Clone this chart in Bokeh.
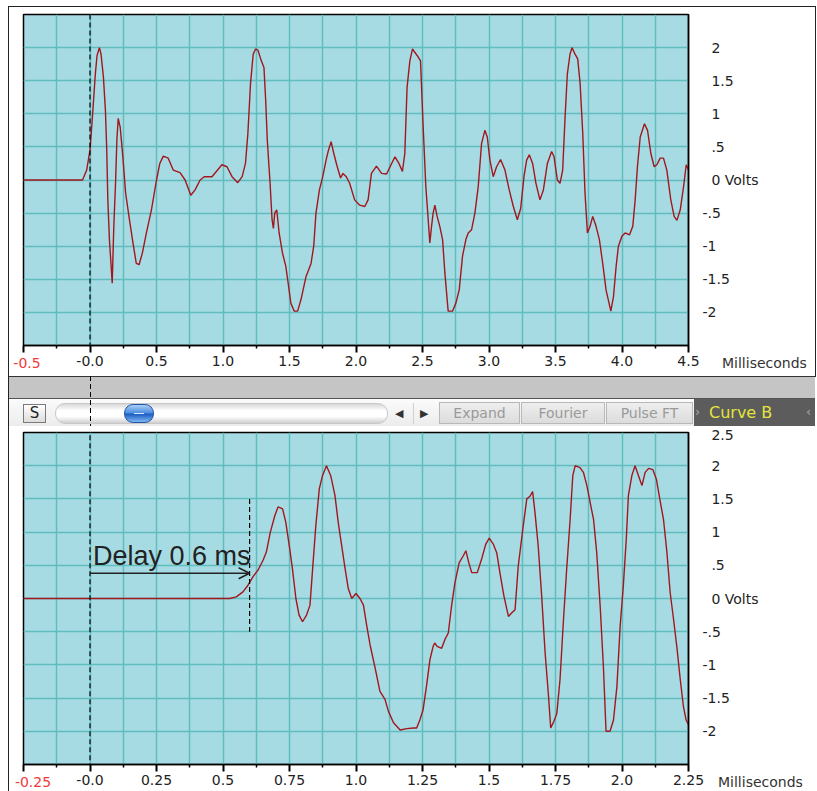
from bokeh.plotting import figure
from bokeh.models import Range1d, FixedTicker, Arrow, OpenHead, Div
from bokeh.layouts import column
from bokeh.core.properties import value
from bokeh.embed import file_html
from bokeh.resources import INLINE

# ---------------- data ----------------
# Upper trace (Curve A): time in ms, amplitude in volts
t_top = [-0.5, -0.056, -0.025, 0.0, 0.020, 0.040, 0.053, 0.071, 0.083, 0.101,
         0.116, 0.126, 0.134, 0.146, 0.159, 0.167, 0.179, 0.192, 0.202, 0.212,
         0.227, 0.247, 0.268, 0.293, 0.323, 0.348, 0.369, 0.394, 0.424, 0.462,
         0.500, 0.525, 0.551, 0.588, 0.626, 0.677, 0.715, 0.758, 0.790, 0.828,
         0.859, 0.917, 0.992, 1.030, 1.068, 1.111, 1.144, 1.169, 1.187, 1.207,
         1.227, 1.245, 1.263, 1.288, 1.308, 1.321, 1.333, 1.354, 1.369, 1.379,
         1.389, 1.404, 1.422, 1.447, 1.472, 1.490, 1.510, 1.535, 1.561, 1.586,
         1.624, 1.662, 1.682, 1.699, 1.725, 1.750, 1.775, 1.793, 1.813, 1.833,
         1.859, 1.884, 1.902, 1.927, 1.952, 1.990, 2.028, 2.066, 2.091, 2.116,
         2.154, 2.192, 2.230, 2.268, 2.293, 2.323, 2.349, 2.367, 2.384, 2.405,
         2.425, 2.442, 2.467, 2.485, 2.505, 2.525, 2.543, 2.555, 2.568, 2.580,
         2.593, 2.610, 2.630, 2.651, 2.668, 2.693, 2.726, 2.751, 2.776, 2.801,
         2.826, 2.844, 2.869, 2.894, 2.919, 2.944, 2.969, 2.987, 3.007, 3.032,
         3.057, 3.087, 3.120, 3.152, 3.183, 3.213, 3.238, 3.263, 3.283, 3.303,
         3.328, 3.353, 3.383, 3.409, 3.439, 3.471, 3.489, 3.514, 3.534, 3.554,
         3.572, 3.589, 3.609, 3.624, 3.647, 3.667, 3.685, 3.705, 3.722, 3.740,
         3.760, 3.780, 3.805, 3.830, 3.855, 3.880, 3.916, 3.936, 3.956, 3.973,
         3.999, 4.024, 4.056, 4.081, 4.099, 4.116, 4.137, 4.169, 4.192, 4.217,
         4.242, 4.262, 4.287, 4.312, 4.337, 4.367, 4.392, 4.413, 4.438, 4.463,
         4.483, 4.500]
v_top = [0, 0, 0.15, 0.45, 1.0, 1.6, 1.88, 2.0, 1.9, 1.55,
         1.05, 0.45, -0.3, -0.9, -1.3, -1.56, -0.7, -0.05, 0.6, 0.93,
         0.8, 0.35, -0.2, -0.55, -0.95, -1.26, -1.28, -1.1, -0.8, -0.45,
         0.0, 0.25, 0.36, 0.33, 0.15, 0.11, 0.0, -0.23, -0.15, 0.0,
         0.05, 0.05, 0.23, 0.2, 0.05, -0.04, 0.05, 0.25, 0.7, 1.46,
         1.9, 1.98, 1.96, 1.8, 1.7, 1.2, 0.6, -0.05, -0.6, -0.73,
         -0.5, -0.45, -0.8, -1.1, -1.3, -1.56, -1.86, -1.98, -1.98, -1.81,
         -1.46, -1.26, -1.0, -0.5, -0.15, 0.05, 0.3, 0.45, 0.58, 0.4,
         0.2, 0.03, 0.1, 0.05, -0.05, -0.3, -0.38, -0.4, -0.3, 0.1,
         0.21, 0.1, 0.09, 0.25, 0.35, 0.25, 0.13, 0.4, 1.4, 1.8,
         1.98, 1.93, 1.86, 1.8, 0.8, -0.1, -0.6, -0.95, -0.7, -0.5,
         -0.38, -0.55, -0.7, -0.9, -1.4, -1.98, -1.98, -1.86, -1.66, -1.15,
         -0.9, -0.8, -0.75, -0.5, -0.1, 0.55, 0.75, 0.65, 0.3, 0.05,
         0.2, 0.31, 0.15, -0.15, -0.4, -0.6, -0.43, 0.05, 0.3, 0.38,
         0.25, -0.05, -0.3, -0.15, 0.25, 0.43, 0.35, 0.0, -0.05, 0.15,
         0.95, 1.6, 1.9, 2.0, 1.9, 1.83, 1.46, 0.7, -0.2, -0.8,
         -0.7, -0.55, -0.7, -0.9, -1.26, -1.66, -1.98, -1.76, -1.3, -1.0,
         -0.85, -0.8, -0.83, -0.7, -0.3, 0.2, 0.65, 0.85, 0.75, 0.4,
         0.2, 0.23, 0.33, 0.33, 0.15, -0.3, -0.55, -0.61, -0.45, -0.1,
         0.23, 0.15]

# Lower trace (Curve B, delayed)
t_bot = [-0.25, 0.525, 0.550, 0.575, 0.594, 0.613, 0.632, 0.651, 0.663, 0.678,
         0.695, 0.707, 0.724, 0.736, 0.749, 0.761, 0.774, 0.786, 0.799, 0.814,
         0.827, 0.837, 0.849, 0.862, 0.874, 0.889, 0.905, 0.921, 0.933, 0.946,
         0.959, 0.971, 0.984, 1.000, 1.015, 1.028, 1.040, 1.053, 1.072, 1.090,
         1.109, 1.122, 1.141, 1.166, 1.191, 1.216, 1.228, 1.240, 1.252, 1.265,
         1.278, 1.290, 1.296, 1.305, 1.322, 1.334, 1.347, 1.359, 1.372, 1.388,
         1.403, 1.413, 1.424, 1.435, 1.456, 1.472, 1.488, 1.501, 1.516, 1.529,
         1.541, 1.556, 1.573, 1.585, 1.598, 1.610, 1.627, 1.642, 1.654, 1.664,
         1.673, 1.685, 1.698, 1.711, 1.723, 1.732, 1.744, 1.755, 1.767, 1.780,
         1.792, 1.805, 1.815, 1.824, 1.842, 1.855, 1.868, 1.880, 1.893, 1.905,
         1.918, 1.930, 1.940, 1.955, 1.968, 1.981, 1.993, 2.005, 2.016, 2.024,
         2.037, 2.049, 2.062, 2.075, 2.087, 2.100, 2.116, 2.129, 2.142, 2.156,
         2.169, 2.181, 2.194, 2.206, 2.219, 2.231, 2.241, 2.250]
v_bot = [0, 0, 0.025, 0.1, 0.2, 0.33, 0.43, 0.58, 0.7, 1.0,
         1.25, 1.38, 1.35, 1.15, 0.8, 0.45, 0.0, -0.25, -0.35, -0.25,
         -0.1, 0.45, 1.1, 1.65, 1.85, 2.0, 1.85, 1.55, 1.15, 0.8,
         0.45, 0.15, 0.0, 0.075, 0.0, -0.1, -0.4, -0.7, -1.05, -1.4,
         -1.52, -1.7, -1.87, -1.98, -1.96, -1.95, -1.95, -1.83, -1.68, -1.32,
         -0.92, -0.72, -0.67, -0.72, -0.75, -0.62, -0.52, -0.12, 0.24, 0.54,
         0.64, 0.72, 0.54, 0.39, 0.39, 0.59, 0.82, 0.91, 0.82, 0.69,
         0.39, 0.04, -0.27, -0.22, -0.17, 0.49, 1.04, 1.5, 1.54, 1.61,
         1.29, 0.79, 0.04, -0.82, -1.43, -1.95, -1.85, -1.73, -1.22, -0.32,
         0.44, 1.19, 1.85, 2.0, 1.97, 1.9, 1.7, 1.45, 1.19, 0.69,
         -0.12, -1.02, -2.0, -2.0, -1.83, -1.32, -0.42, 0.19, 0.89, 1.55,
         1.85, 2.0, 1.85, 1.7, 1.9, 1.96, 1.94, 1.8, 1.5, 1.19,
         0.69, 0.09, -0.32, -0.72, -1.22, -1.63, -1.83, -1.9]

# axis ticks / labels
x_ticks_top = [-0.5, 0.0, 0.5, 1.0, 1.5, 2.0, 2.5, 3.0, 3.5, 4.0, 4.5]
x_labels_top = ["-0.5", "-0.0", "0.5", "1.0", "1.5", "2.0", "2.5", "3.0", "3.5", "4.0", "4.5"]
x_minor_top = [-0.25, 0.25, 0.75, 1.25, 1.75, 2.25, 2.75, 3.25, 3.75, 4.25]
x_ticks_bot = [-0.25, 0.0, 0.25, 0.5, 0.75, 1.0, 1.25, 1.5, 1.75, 2.0, 2.25]
x_labels_bot = ["-0.25", "-0.0", "0.25", "0.5", "0.75", "1.0", "1.25", "1.5", "1.75", "2.0", "2.25"]
x_minor_bot = [-0.125, 0.125, 0.375, 0.625, 0.875, 1.125, 1.375, 1.625, 1.875, 2.125]
y_ticks_top = [2.0, 1.5, 1.0, 0.5, 0.0, -0.5, -1.0, -1.5, -2.0]
y_labels_top = ["2", "1.5", "1", ".5", "0 Volts", "-.5", "-1", "-1.5", "-2"]
y_ticks_bot = [2.5, 2.0, 1.5, 1.0, 0.5, 0.0, -0.5, -1.0, -1.5, -2.0]
y_labels_bot = ["2.5", "2", "1.5", "1", ".5", "0 Volts", "-.5", "-1", "-1.5", "-2"]
y_grid = [-2.0, -1.5, -1.0, -0.5, 0.0, 0.5, 1.0, 1.5, 2.0]
x_unit = "Milliseconds"

delay_ms = 0.6
delay_text = "Delay 0.6 ms"
tab_names = ["Expand", "Fourier", "Pulse FT"]
curve_name = "Curve B"

# ---------------- style ----------------
BG = "#a7dbe3"
GRID = "#5fbdbe"
TRACE = "#a3161e"
FONT = "DejaVu Sans"
W = 817


def panel(t, v, xr, xt, xl, xm, yt, yl, height, mb_top, mb_bottom, dash_y):
    p = figure(width=W, height=height, x_range=Range1d(*xr), y_range=Range1d(-2.5, 2.5),
               output_backend="svg", toolbar_location=None, y_axis_location="right",
               min_border_left=23, min_border_right=129, min_border_top=mb_top,
               min_border_bottom=mb_bottom, background_fill_color=BG,
               border_fill_color="white", outline_line_color="black",
               outline_line_width=1.5, margin=0)
    xa = p.xaxis[0]
    xa.ticker = FixedTicker(ticks=xt, minor_ticks=xm)
    ov = {k: lab for k, lab in zip(xt, xl)}
    ov[xt[0]] = ""          # first (red) label is drawn in the overlay
    xa.major_label_overrides = ov
    xa.axis_line_width = 1.5
    xa.major_tick_line_width = 2
    xa.minor_tick_line_width = 1.5
    xa.major_tick_out = 7
    xa.major_tick_in = 0
    xa.minor_tick_out = 3
    xa.minor_tick_in = 0
    xa.major_label_standoff = 3
    xa.major_label_text_font = FONT
    xa.major_label_text_font_size = "14px"
    xa.major_label_text_color = "#222222"

    ya = p.yaxis[0]
    ya.ticker = FixedTicker(ticks=yt)
    ya.major_label_overrides = {k: (lab if lab.startswith("-") else "\u2007" + lab)
                                for k, lab in zip(yt, yl)}
    ya.axis_line_width = 1.5
    ya.major_tick_line_color = None
    ya.minor_tick_line_color = None
    ya.major_tick_out = 0
    ya.major_tick_in = 0
    ya.major_label_standoff = 14
    ya.major_label_text_font = FONT
    ya.major_label_text_font_size = "14px"
    ya.major_label_text_color = "#222222"

    p.xgrid.grid_line_color = GRID
    p.xgrid.grid_line_width = 1.5
    p.xgrid.minor_grid_line_color = GRID
    p.xgrid.minor_grid_line_width = 1.5
    p.ygrid.ticker = FixedTicker(ticks=y_grid)
    p.ygrid.grid_line_color = GRID
    p.ygrid.grid_line_width = 1.5

    p.line(t, v, line_color=TRACE, line_width=1.4)

    # zero-time dashed marker
    p.add_layout(Arrow(end=None, x_start=0, y_start=dash_y[0], x_end=0, y_end=dash_y[1],
                       line_color="black", line_width=1.2, line_dash="5 3"))
    return p


top = panel(t_top, v_top, (-0.5, 4.5), x_ticks_top, x_labels_top, x_minor_top,
            y_ticks_top, y_labels_top, 376, 14, 31, (2.5, -3.2))
bot = panel(t_bot, v_bot, (-0.25, 2.25), x_ticks_bot, x_labels_bot, x_minor_bot,
            y_ticks_bot, y_labels_bot, 365, 6, 27, (2.7, -2.5))

# delay annotation on lower panel
bot.segment(x0=[delay_ms], y0=[1.5], x1=[delay_ms], y1=[-0.5],
            line_color="black", line_width=1.2, line_dash="5 3")
bot.add_layout(Arrow(end=OpenHead(size=11, line_color="#222222", line_width=1.5),
                     x_start=0, y_start=0.38, x_end=delay_ms, y_end=0.38,
                     line_color="#222222", line_width=1.5))
bot.text(x=[0.011], y=[0.64], text=[delay_text], text_font=value("Liberation Sans"),
         text_font_size=value("27px"), text_color="#222222",
         text_baseline="alphabetic", text_align="left")

# ---------------- toolbar strip between the panels ----------------
tab_left = [439, 521, 606]
tab_w = [81, 84, 87]
tabs_html = "".join(
    f'<div style="position:absolute;left:{l}px;top:26px;width:{w}px;height:22px;'
    f'background:linear-gradient(#eeeeee,#dcdcdc);border:1px solid #b8b8b8;box-sizing:border-box;'
    f'color:#9a9a9a;font-size:14px;line-height:20px;text-align:center;">{n}</div>'
    for n, l, w in zip(tab_names, tab_left, tab_w))

strip = f'''
<div style="position:relative;width:{W}px;height:50px;overflow:hidden;font-family:'DejaVu Sans',sans-serif;background:#ffffff;">
 <div style="position:absolute;left:8px;top:0;width:{W - 10}px;height:1px;background:#333;"></div>
 <div style="position:absolute;left:9px;top:1px;width:{W - 11}px;height:21px;background:#c5c5c5;"></div>
 <div style="position:absolute;left:9px;top:22px;width:{W - 11}px;height:1px;background:#555;"></div>
 <div style="position:absolute;left:9px;top:23px;width:{W - 11}px;height:27px;background:linear-gradient(#fbfbfb,#ececec);"></div>
 <div style="position:absolute;left:23px;top:28px;width:23px;height:19px;box-sizing:border-box;border:1px solid #7a7a7a;background:linear-gradient(#ffffff,#dddddd);font-size:15px;line-height:17px;text-align:center;color:#222;">S</div>
 <div style="position:absolute;left:55px;top:27px;width:333px;height:21px;box-sizing:border-box;border:1px solid #c8c8c8;border-radius:10px;background:linear-gradient(#d8d8d8,#ffffff 35%,#ffffff 65%,#d0d0d0);"></div>
 <div style="position:absolute;left:124px;top:28px;width:30px;height:19px;box-sizing:border-box;border:1px solid #2456a8;border-radius:9px;background:linear-gradient(#a9d0f7,#4f8fe0 45%,#1f5fc4 55%,#7fb6f2);"></div>
 <div style="position:absolute;left:134px;top:37px;width:10px;height:1px;background:#d8e8ff;"></div>
 <div style="position:absolute;left:395px;top:30px;font-size:11px;color:#333;">&#9664;</div>
 <div style="position:absolute;left:413px;top:27px;width:1px;height:21px;background:#cfcfcf;"></div>
 <div style="position:absolute;left:420px;top:30px;font-size:11px;color:#333;">&#9654;</div>
 {tabs_html}
 <div style="position:absolute;left:694px;top:23px;width:{W - 696}px;height:27px;background:#5c5c5c;"></div>
 <div style="position:absolute;left:695px;top:27px;font-size:13px;color:#a8a8a8;">&#8250;</div>
 <div style="position:absolute;left:709px;top:26px;font-size:16px;line-height:22px;color:#e4e43a;">{curve_name}</div>
 <div style="position:absolute;left:806px;top:27px;font-size:13px;color:#a8a8a8;">&#8249;</div>
 <div style="position:absolute;left:90px;top:0;width:1px;height:50px;background:repeating-linear-gradient(to bottom,#000 0px,#000 5px,transparent 5px,transparent 8px);"></div>
</div>
'''
strip_div = Div(text=strip, width=W, height=50, margin=0)

# ---------------- overlay: outer frame, red first tick labels, unit labels ----------------
def txt(left, top, s, color, anchor="center"):
    tr = "translate(-50%,-50%)" if anchor == "center" else "translate(0,-50%)"
    return (f'<div style="position:absolute;left:{left}px;top:{top}px;transform:{tr};'
            f'white-space:nowrap;font-family:\'DejaVu Sans\';font-size:14px;color:{color};">{s}</div>')

overlay_html = (
    '<div style="position:relative;width:817px;height:791px;">'
    '<div style="position:absolute;left:8px;top:6px;width:1px;height:785px;background:#222;"></div>'
    '<div style="position:absolute;left:8px;top:6px;width:808px;height:1px;background:#222;"></div>'
    '<div style="position:absolute;left:815px;top:6px;width:1px;height:371px;background:#222;"></div>'
    + txt(27, 363, x_labels_top[0], "#f03a3a")
    + txt(33, 782, x_labels_bot[0], "#f03a3a")
    + txt(722, 363, x_unit, "#333333", "left")
    + txt(718, 782, x_unit, "#333333", "left")
    + '</div>'
)
overlay = Div(text=overlay_html, width=817, height=791, margin=0,
              styles={"position": "absolute", "left": "0px", "top": "0px",
                      "pointer-events": "none"})

layout = column(top, strip_div, bot, overlay, spacing=0)

open("out.html", "w").write(file_html(layout, INLINE))
